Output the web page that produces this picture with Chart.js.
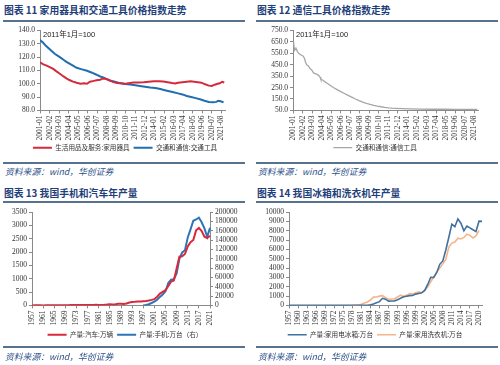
<!DOCTYPE html>
<html lang="zh-CN">
<head>
<meta charset="utf-8">
<title>价格指数与年产量</title>
<script src="https://cdn.jsdelivr.net/npm/chart.js@4.4.1/dist/chart.umd.min.js"></script>
<style>
  html, body { margin: 0; padding: 0; background: #fff; }
  body { position: relative; width: 500px; height: 365px; overflow: hidden; font-family: "Noto Sans CJK SC", sans-serif; }
  .title { position: absolute; font-size: 9.8px; line-height: 12px; font-weight: bold; color: #1f3f7a; white-space: nowrap; }
  .rule { position: absolute; height: 2px; background: #56728f; }
  .src { position: absolute; font-size: 8.8px; line-height: 10px; font-style: italic; color: #2d4f8a; white-space: nowrap; }
  canvas { position: absolute; }
</style>
</head>
<body>
<div class="title" style="left:4px;top:4px">图表 11 家用器具和交通工具价格指数走势</div>
<div class="rule" style="left:3px;width:242px;top:20px"></div>
<canvas id="c11" width="250" height="137" style="left:0;top:24px"></canvas>
<div class="rule" style="left:3px;width:242px;top:162px"></div>
<div class="src" style="left:5px;top:167px">资料来源：wind，华创证券</div>

<div class="title" style="left:257px;top:4px">图表 12 通信工具价格指数走势</div>
<div class="rule" style="left:256px;width:242px;top:20px"></div>
<canvas id="c12" width="250" height="137" style="left:250px;top:24px"></canvas>
<div class="rule" style="left:256px;width:242px;top:162px"></div>
<div class="src" style="left:258px;top:167px">资料来源：wind，华创证券</div>

<div class="title" style="left:4px;top:187px">图表 13 我国手机和汽车年产量</div>
<div class="rule" style="left:3px;width:242px;top:201px"></div>
<canvas id="c13" width="250" height="143" style="left:0;top:205px"></canvas>
<div class="rule" style="left:3px;width:242px;top:346px"></div>
<div class="src" style="left:5px;top:352px">资料来源：wind，华创证券</div>

<div class="title" style="left:257px;top:187px">图表 14 我国冰箱和洗衣机年产量</div>
<div class="rule" style="left:256px;width:242px;top:201px"></div>
<canvas id="c14" width="250" height="143" style="left:250px;top:205px"></canvas>
<div class="rule" style="left:256px;width:242px;top:346px"></div>
<div class="src" style="left:258px;top:352px">资料来源：wind，华创证券</div>

<script>
// ---- chart 11 / 12: monthly price indexes, x = months since 2001-01 ----
const monthTickLabels = ['2001-01', '2002-02', '2003-03', '2004-04', '2005-05', '2006-06', '2007-07',
  '2008-08', '2009-09', '2010-10', '2011-11', '2012-12', '2014-01', '2015-02', '2016-03', '2017-04',
  '2018-05', '2019-06', '2020-07', '2021-08'];

const applianceMonths = [0, 4, 9, 14, 18, 22, 27, 32, 36, 40, 45, 50, 55, 60, 64, 68, 72, 77, 82, 86,
  89, 93, 97, 100, 105, 109, 114, 118, 123, 127, 134, 141, 148, 155, 162, 168, 174, 180, 184, 188,
  194, 200, 205, 210, 215, 220, 225, 230, 234, 238, 242, 245, 248, 251];
const applianceIndex = [116, 114.8, 113.6, 112.3, 111.2, 109.5, 107.5, 105.5, 104, 102.8,
  101.6, 100.8, 100.1, 100.3, 100, 101.5, 102, 102.6, 103, 104,
  103.8, 103, 102, 101.2, 100.6, 100.3, 100.1, 100.2, 100.6, 100.9,
  101, 101.2, 101.5, 101.8, 101.8, 101.7, 101.2, 100.5, 100.2, 100.8,
  101.2, 101.6, 101.8, 101.5, 101.2, 100.8, 99.6, 98.6, 98.3, 99.3,
  100, 100.4, 101.5, 101];

const transportMonths = [0, 4, 8, 14, 20, 27, 32, 36, 42, 50, 56, 64, 70, 77, 82, 86, 91, 95, 102, 109,
  116, 123, 130, 136, 143, 150, 157, 164, 170, 176, 182, 188, 194, 200, 206, 212, 218, 224, 230, 236,
  240, 243, 246, 250];
const transportIndex = [132.8, 131, 128.5, 125.5, 122.5, 120, 118, 116.5, 114.5, 112,
  111, 109.8, 108.5, 106.8, 105.5, 104.8, 103.5, 102.5, 101.5, 100.5,
  99.8, 99.5, 98.9, 98.4, 97.8, 97.2, 96.8, 96, 95.2, 94.4,
  93.6, 92.8, 92, 90.8, 90, 89.2, 88.4, 87.3, 86.3, 86.2,
  86.4, 87.2, 86.9, 86];

const commMonths = [0, 1, 2, 4, 6, 8, 11, 14, 16, 17, 19, 21, 23, 26, 28, 30, 33, 35, 37, 38,
  40, 42, 44, 46, 48, 51, 55, 60, 65, 70, 75, 80, 85, 90, 95, 100, 105, 110, 115, 120,
  125, 130, 135, 140, 150, 160, 175, 190, 205, 220, 235, 251];
const commIndex = [648, 630, 575, 595, 565, 548, 535, 525, 500, 472, 448, 440, 418, 400, 378, 372, 365, 355, 340, 320,
  318, 308, 298, 290, 282, 268, 250, 232, 214, 198, 182, 166, 150, 136, 123, 112, 103, 95, 88, 82,
  77, 73, 70, 68, 65, 63, 61, 60, 60, 59, 58, 58];

// ---- chart 13 / 14: annual output ----
const years = [1957, 1958, 1959, 1960, 1961, 1962, 1963, 1964, 1965, 1966, 1967, 1968, 1969, 1970,
  1971, 1972, 1973, 1974, 1975, 1976, 1977, 1978, 1979, 1980, 1981, 1982, 1983, 1984, 1985, 1986,
  1987, 1988, 1989, 1990, 1991, 1992, 1993, 1994, 1995, 1996, 1997, 1998, 1999, 2000, 2001, 2002,
  2003, 2004, 2005, 2006, 2007, 2008, 2009, 2010, 2011, 2012, 2013, 2014, 2015, 2016, 2017, 2018,
  2019, 2020, 2021];

const carOutput = [0.8, 1.6, 2, 2.3, 0.4, 1, 2.1, 2.8, 4.1, 5.6,
  2, 2.5, 5.3, 8.7, 11.1, 10.8, 11.6, 10.5, 14, 13.5,
  12.5, 14.9, 18.6, 22.2, 17.6, 19.6, 24, 31.6, 43.7, 37,
  47.2, 64.7, 58.4, 51.4, 71.4, 106, 130, 135, 145, 148,
  158, 163, 183, 207, 234, 325, 444, 507, 570, 728,
  888, 935, 1379, 1827, 1842, 1927, 2212, 2372, 2450, 2812,
  2902, 2782, 2572, 2523, 2608];

const phoneYears = [1997, 1998, 1999, 2000, 2001, 2002, 2003, 2004, 2005, 2006, 2007, 2008, 2009,
  2010, 2011, 2012, 2013, 2014, 2015, 2016, 2017, 2018, 2019, 2020, 2021];
const phoneOutput = [300, 1000, 2500, 5200, 8000, 12100, 18200, 23300, 30400, 48000, 54900, 56000, 68200,
  99800, 113300, 118200, 145600, 162700, 181300, 184000, 188000, 178000, 165000, 147000, 166000];

const fridgeOutput = [0, 0, 0, 0, 0, 0, 0, 0, 0, 0,
  0, 0, 0, 0, 0, 0, 0, 0, 0, 0,
  0, 3, 3, 5, 6, 10, 19, 55, 145, 290,
  401, 758, 671, 463, 470, 486, 597, 768, 918, 980,
  1044, 1060, 1210, 1279, 1351, 1599, 2243, 3008, 2987, 3531,
  4397, 4757, 5930, 7296, 8699, 8427, 9261, 8796, 7993, 8482,
  8300, 8100, 7904, 9015, 8992];

const washerYears = [1978, 1979, 1980, 1981, 1982, 1983, 1984, 1985, 1986, 1987, 1988, 1989, 1990,
  1991, 1992, 1993, 1994, 1995, 1996, 1997, 1998, 1999, 2000, 2001, 2002, 2003, 2004, 2005, 2006,
  2007, 2008, 2009, 2010, 2011, 2012, 2013, 2014, 2015, 2016, 2017, 2018, 2019, 2020];
const washerOutput = [0, 2, 25, 128, 253, 366, 578, 887, 899, 990, 1047, 825, 663,
  687, 708, 896, 1095, 948, 1075, 1255, 1207, 1342, 1443, 1341, 1596, 1964, 2533, 3036, 3561,
  4005, 4447, 4935, 6248, 6671, 6791, 7202, 7114, 7275, 7621, 7500, 7225, 7433, 8042];

// ---- shared styling ----
const axisColor = '#8a8a8a';
const textColor = '#333333';
const tickFont = { family: '"Liberation Serif", "Times New Roman", serif', size: 7.5 };
const legendFont = { family: '"Noto Sans CJK SC", sans-serif', size: 6.6 };

const monthIndex = s => (Number(s.slice(0, 4)) - 2001) * 12 + Number(s.slice(5)) - 1;
const yearLabels = years.map(String);

const frame = {
  border: { display: true, color: axisColor, width: 1 },
  grid: { display: true, drawOnChartArea: false, drawTicks: true, tickLength: 3, color: axisColor }
};

function legendOpts() {
  return {
    position: 'bottom',
    labels: {
      usePointStyle: true, pointStyle: 'line', pointStyleWidth: 19, boxHeight: 6,
      font: legendFont, color: textColor, padding: 4
    }
  };
}

// text such as "2011年1月=100" in the top-left corner of the plot
const cornerNote = {
  id: 'cornerNote',
  afterDraw(chart, args, opts) {
    if (!opts.text) return;
    const { ctx, chartArea } = chart;
    ctx.save();
    ctx.font = '7.5px "Liberation Sans", "Noto Sans CJK SC", sans-serif';
    ctx.fillStyle = '#222';
    ctx.textBaseline = 'top';
    ctx.fillText(opts.text, chartArea.left + 3, chartArea.top + 0.5);
    ctx.restore();
  }
};

function monthAxis() {
  return {
    type: 'linear', min: 0, max: 252,
    ...frame,
    afterBuildTicks: s => { s.ticks = monthTickLabels.map(l => ({ value: monthIndex(l) })); },
    afterFit: s => { s.height = 30; },
    ticks: {
      autoSkip: false, minRotation: 90, maxRotation: 90, padding: 2,
      font: tickFont, color: textColor,
      callback: (v, i) => monthTickLabels[i]
    }
  };
}

function yearAxis(every) {
  return {
    type: 'category',
    ...frame,
    afterFit: s => { s.height = 22; },
    ticks: {
      autoSkip: false, minRotation: 90, maxRotation: 90, padding: 2,
      font: tickFont, color: textColor,
      callback: (v, i) => (i % every === 0 ? yearLabels[i] : null)
    }
  };
}

function valueAxis(min, max, step, width, digits, position) {
  return {
    type: 'linear', min: min, max: max, position: position || 'left',
    ...frame,
    afterFit: s => { s.width = width; },
    ticks: {
      stepSize: step, autoSkip: false, padding: 2, font: tickFont, color: textColor,
      callback: v => v.toFixed(digits)
    }
  };
}

// empty right-hand strip so the legend stays centred on the whole panel
function spacerAxis(width) {
  return {
    type: 'linear', position: 'right', display: true,
    afterFit: s => { s.width = width; },
    border: { display: false }, grid: { display: false }, ticks: { display: false }
  };
}

const pairs = (xs, ys) => xs.map((x, i) => ({ x: x, y: ys[i] }));

Chart.defaults.animation = false;
Chart.defaults.responsive = false;
Chart.defaults.devicePixelRatio = 1;

new Chart(document.getElementById('c11'), {
  type: 'line',
  data: {
    datasets: [
      { label: '生活用品及服务:家用器具', data: pairs(applianceMonths, applianceIndex),
        borderColor: '#d42a3c', backgroundColor: '#d42a3c', borderWidth: 2, pointRadius: 0 },
      { label: '交通和通信:交通工具', data: pairs(transportMonths, transportIndex),
        borderColor: '#1f6eb0', backgroundColor: '#1f6eb0', borderWidth: 2, pointRadius: 0 }
    ]
  },
  options: {
    layout: { padding: { left: 0, right: 0, top: 5, bottom: 0 } },
    scales: { x: monthAxis(), y: valueAxis(80, 140, 10, 40, 1), pad: spacerAxis(25) },
    plugins: { legend: legendOpts(), tooltip: { enabled: false }, cornerNote: { text: '2011年1月=100' } }
  },
  plugins: [cornerNote]
});

new Chart(document.getElementById('c12'), {
  type: 'line',
  data: {
    datasets: [
      { label: '交通和通信:通信工具', data: pairs(commMonths, commIndex),
        borderColor: '#a6a6a6', backgroundColor: '#a6a6a6', borderWidth: 1.3, pointRadius: 0 }
    ]
  },
  options: {
    layout: { padding: { left: 0, right: 0, top: 5, bottom: 0 } },
    scales: { x: monthAxis(), y: valueAxis(50, 750, 100, 43, 1), pad: spacerAxis(22) },
    plugins: { legend: legendOpts(), tooltip: { enabled: false }, cornerNote: { text: '2011年1月=100' } }
  },
  plugins: [cornerNote]
});

new Chart(document.getElementById('c13'), {
  type: 'line',
  data: {
    labels: yearLabels,
    datasets: [
      { label: '产量:汽车:万辆', data: carOutput, yAxisID: 'y',
        borderColor: '#d9293b', backgroundColor: '#d9293b', borderWidth: 2, pointRadius: 0 },
      { label: '产量:手机:万台（右）', data: pairs(phoneYears.map(String), phoneOutput), yAxisID: 'y1',
        borderColor: '#2e75b6', backgroundColor: '#2e75b6', borderWidth: 2, pointRadius: 0 }
    ]
  },
  options: {
    layout: { padding: { left: 0, right: 0, top: 7, bottom: 0 } },
    scales: {
      x: yearAxis(4),
      y: valueAxis(0, 3500, 500, 32, 0),
      y1: valueAxis(0, 200000, 20000, 40, 0, 'right')
    },
    plugins: { legend: legendOpts(), tooltip: { enabled: false } }
  }
});

new Chart(document.getElementById('c14'), {
  type: 'line',
  data: {
    labels: yearLabels,
    datasets: [
      { label: '产量:家用电冰箱:万台', data: fridgeOutput,
        borderColor: '#41719c', backgroundColor: '#41719c', borderWidth: 1.6, pointRadius: 0 },
      { label: '产量:家用洗衣机:万台', data: pairs(washerYears.map(String), washerOutput),
        borderColor: '#f5b48a', backgroundColor: '#f5b48a', borderWidth: 1.6, pointRadius: 0 }
    ]
  },
  options: {
    layout: { padding: { left: 0, right: 0, top: 7, bottom: 0 } },
    scales: { x: yearAxis(3), y: valueAxis(0, 10000, 1000, 39, 0), pad: spacerAxis(18) },
    plugins: { legend: legendOpts(), tooltip: { enabled: false } }
  }
});
</script>
</body>
</html>
